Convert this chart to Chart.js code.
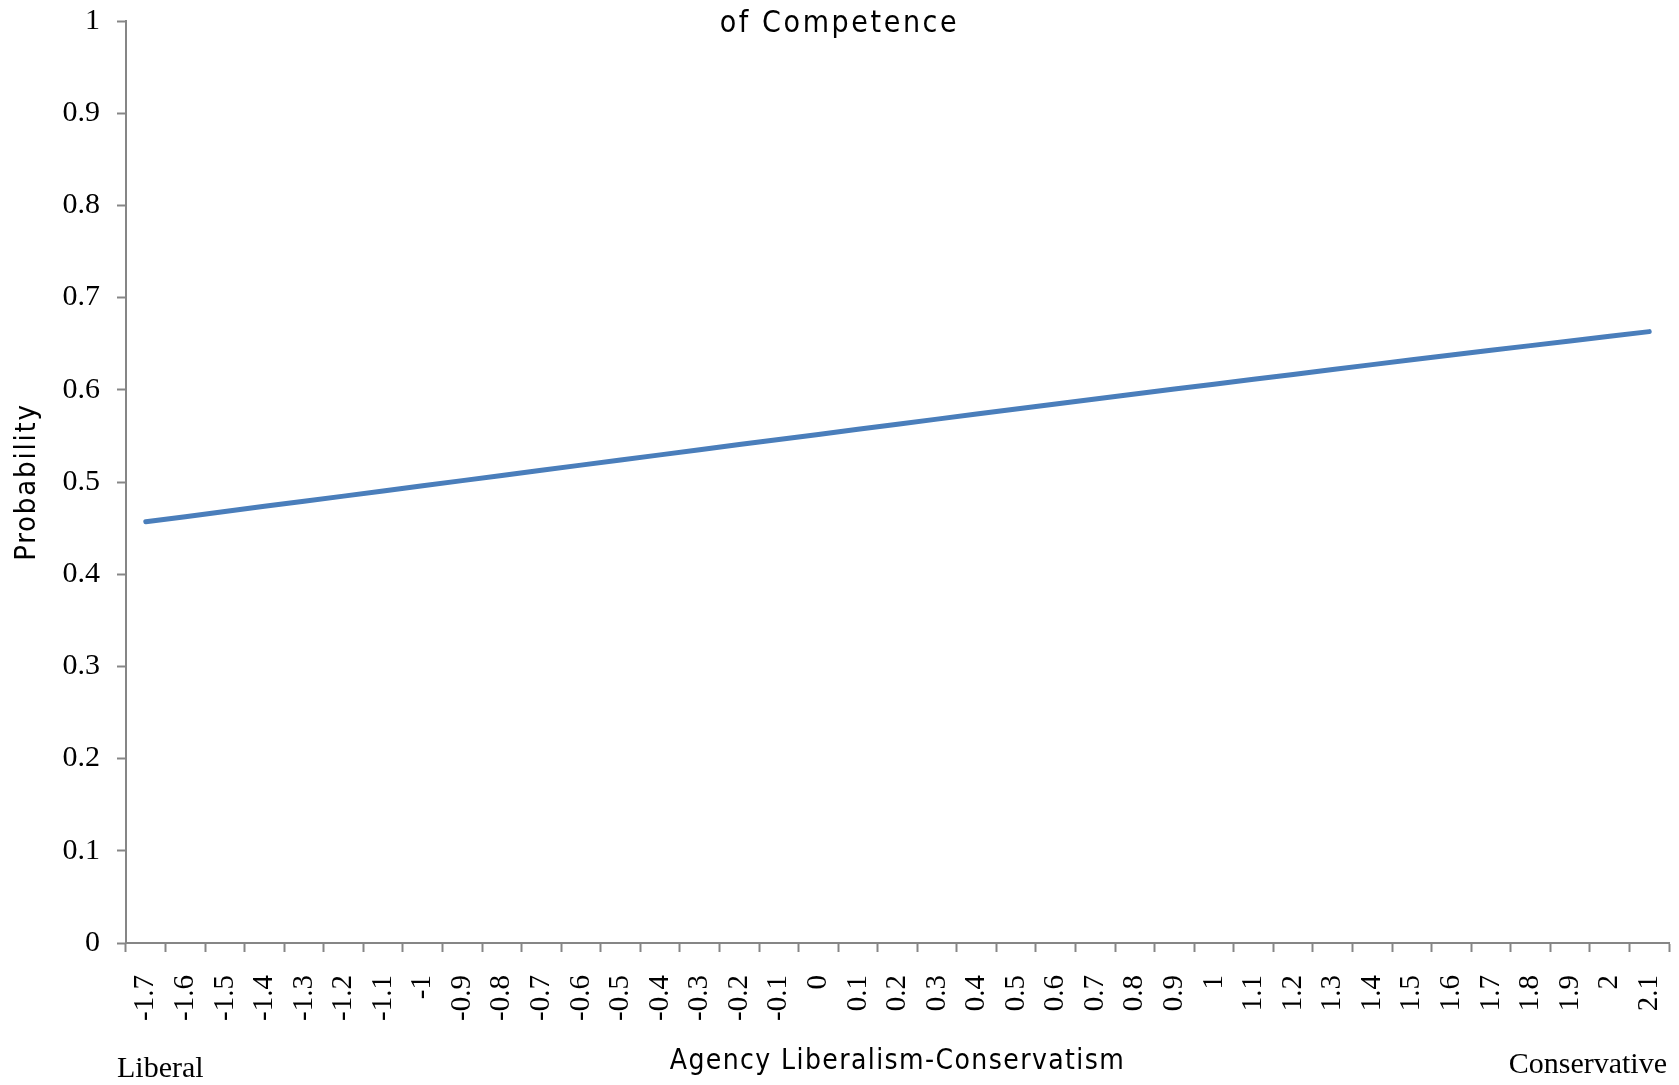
<!DOCTYPE html>
<html>
<head>
<meta charset="utf-8">
<title>Agency Liberalism-Conservatism</title>
<script src="https://cdn.jsdelivr.net/npm/chart.js@4.4.1/dist/chart.umd.min.js"></script>
<style>
    body { margin: 0; background: #fff; }
    #wrap { width: 1679px; height: 1085px; }
</style>
</head>
<body>
<div id="wrap"><canvas id="probChart" width="1679" height="1085"></canvas></div>
<script>
// x categories (agency ideology score)
const ideology = ['-1.7', '-1.6', '-1.5', '-1.4', '-1.3', '-1.2', '-1.1', '-1', '-0.9', '-0.8',
    '-0.7', '-0.6', '-0.5', '-0.4', '-0.3', '-0.2', '-0.1', '0', '0.1', '0.2',
    '0.3', '0.4', '0.5', '0.6', '0.7', '0.8', '0.9', '1', '1.1', '1.2',
    '1.3', '1.4', '1.5', '1.6', '1.7', '1.8', '1.9', '2', '2.1'];

// predicted probability
const probability = [0.4569, 0.4624, 0.4680, 0.4736, 0.4791, 0.4847, 0.4903, 0.4959, 0.5015, 0.5071,
    0.5127, 0.5183, 0.5238, 0.5294, 0.5350, 0.5406, 0.5461, 0.5516, 0.5572, 0.5627,
    0.5682, 0.5737, 0.5791, 0.5846, 0.5900, 0.5954, 0.6008, 0.6061, 0.6114, 0.6167,
    0.6220, 0.6273, 0.6325, 0.6377, 0.6428, 0.6479, 0.6530, 0.6581, 0.6631];

const chartTitle = 'of Competence';
const xTitle = 'Agency Liberalism-Conservatism';
const yTitle = 'Probability';
const endLabels = ['Liberal', 'Conservative'];

const AXIS_GREY = '#868686';
const narrow = "'DejaVu Sans Condensed', 'DejaVu Sans', sans-serif";
const serif = "'Liberation Serif', 'DejaVu Serif', serif";

// titles (narrow, letter-spaced) and the Liberal / Conservative notes
const textLayer = {
    id: 'textLayer',
    afterDraw(chart) {
        const ctx = chart.ctx;
        const area = chart.chartArea;
        ctx.save();
        ctx.fillStyle = '#000';

        ctx.font = '30px ' + narrow;
        ctx.letterSpacing = '2.6px';
        ctx.textAlign = 'center';
        ctx.textBaseline = 'alphabetic';
        ctx.fillText(chartTitle, chart.width / 2, 32);

        ctx.font = '28px ' + narrow;
        ctx.letterSpacing = '1.4px';
        ctx.fillText(xTitle, (area.left + area.right) / 2, 1069);

        ctx.save();
        ctx.font = '29px ' + narrow;
        ctx.translate(27, (area.top + area.bottom) / 2);
        ctx.rotate(-Math.PI / 2);
        ctx.letterSpacing = '1.8px';
        ctx.textBaseline = 'middle';
        ctx.fillText(yTitle, 0, 0);
        ctx.restore();

        ctx.letterSpacing = '0px';
        ctx.font = '30px ' + serif;
        ctx.textBaseline = 'alphabetic';
        ctx.textAlign = 'left';
        ctx.fillText(endLabels[0], 117, 1077);
        ctx.textAlign = 'right';
        ctx.fillText(endLabels[1], 1667, 1073);
        ctx.restore();
    }
};

const ctx = document.getElementById('probChart').getContext('2d');
new Chart(ctx, {
    type: 'line',
    data: {
        labels: ideology,
        datasets: [{
            data: probability,
            borderColor: '#4a7ebb',
            borderWidth: 5,
            borderCapStyle: 'round',
            pointRadius: 0,
            tension: 0,
            fill: false
        }]
    },
    options: {
        responsive: false,
        devicePixelRatio: 1,
        animation: false,
        layout: { padding: { left: 0, right: 10, top: 21, bottom: 0 } },
        plugins: {
            legend: { display: false },
            tooltip: { enabled: false },
            title: { display: false }
        },
        scales: {
            x: {
                type: 'category',
                offset: true,
                grid: {
                    offset: true,
                    drawOnChartArea: false,
                    drawTicks: true,
                    tickLength: 9,
                    tickWidth: 2,
                    tickColor: AXIS_GREY
                },
                border: { color: AXIS_GREY, width: 2 },
                ticks: {
                    autoSkip: false,
                    minRotation: 90,
                    maxRotation: 90,
                    padding: 23,
                    color: '#000',
                    font: { family: serif, size: 29 }
                },
                afterFit(scale) {
                    scale.height = 142;
                    scale.paddingLeft = 0;
                    scale.paddingRight = 0;
                }
            },
            y: {
                min: 0,
                max: 1,
                grid: {
                    drawOnChartArea: false,
                    drawTicks: true,
                    tickLength: 9,
                    tickWidth: 2,
                    tickColor: AXIS_GREY
                },
                border: { color: AXIS_GREY, width: 2 },
                ticks: {
                    stepSize: 0.1,
                    padding: 17,
                    color: '#000',
                    font: { family: serif, size: 30 },
                    callback: v => Math.round(v * 10) / 10
                },
                afterFit(scale) {
                    scale.width = 126;
                    scale.paddingTop = 0;
                    scale.paddingBottom = 0;
                }
            }
        }
    },
    plugins: [textLayer]
});
</script>
</body>
</html>
